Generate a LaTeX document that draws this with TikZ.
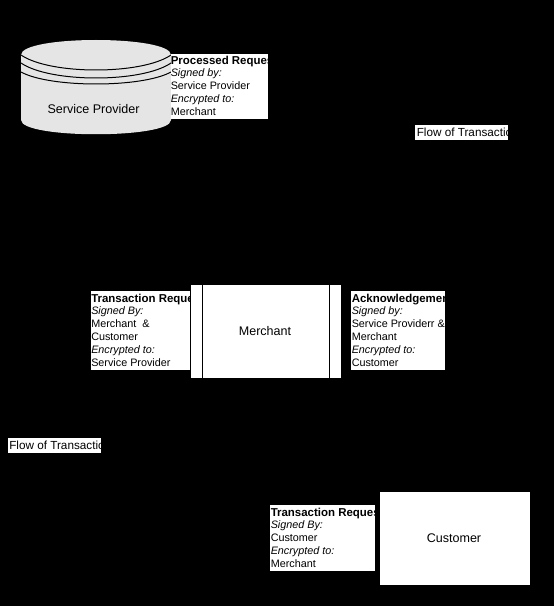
\documentclass[tikz,border=0pt]{standalone}
\usepackage{fontspec}
\setmainfont{Liberation Sans}
\usepackage{tikz}
\usetikzlibrary{positioning}
\def\px{0.75pt}
\newcommand{\msghd}{\fontsize{8.6}{9.6}\selectfont\bfseries}

\begin{document}
\begin{tikzpicture}[
    x=0.75pt, y=-0.75pt,
    party/.style   = {fill=white, inner sep=0pt, anchor=north west, font=\fontsize{9.4}{11}\selectfont},
    msgbox/.style  = {fill=white, inner sep=0pt, anchor=north west},
    msgtext/.style = {inner sep=0pt, anchor=north west, align=left, font=\fontsize{8.1}{9.6}\selectfont},
    flowtext/.style= {inner sep=0pt, anchor=west, font=\fontsize{8.8}{10}\selectfont},
    divider/.style = {draw=black, line width=0.75pt}
]

\useasboundingbox[fill=black] (0,0) rectangle (554,606);

% ---- Service Provider drum ----
\fill[gray!20] (21,55) .. controls (21,35) and (171,35) .. (171,55)
    -- (171,120) .. controls (171,139) and (21,139) .. (21,120) -- cycle;
\draw[divider] (21,55) .. controls (50,75) and (142,75) .. (171,55);
\draw[divider] (21,63) .. controls (50,83) and (142,83) .. (171,63);
\draw[divider] (21,72) .. controls (50,88) and (142,88) .. (171,72);
\node[font=\fontsize{9.4}{11}\selectfont] (sp) at (93.5,109) {Service Provider};

% ---- Merchant ----
\node[party, minimum width=150*\px, minimum height=93*\px] (merchant) at (191,285) {};
\draw[divider] (202.5,285) -- (202.5,378);
\draw[divider] (329.5,285) -- (329.5,378);
\node[font=\fontsize{9.4}{11}\selectfont] (mlabel) at (265,331) {Merchant};

% ---- Customer ----
\node[party, minimum width=150*\px, minimum height=93*\px] (customer) at (380,492) {};
\node[font=\fontsize{9.4}{11}\selectfont] (clabel) at (454,538) {Customer};

% ---- Messages ----
\node[msgbox, minimum width=97*\px, minimum height=65*\px] (processed) at (171,54) {};
\begin{scope}
    \clip (processed.north west) rectangle (processed.south east);
    \node[msgtext] (processedtext) at (170.5,55.5) {{\msghd Processed Request}\\\textit{Signed by:}\\Service Provider\\\textit{Encrypted to:}\\Merchant};
\end{scope}

\node[msgbox, minimum width=99*\px, minimum height=79*\px] (txrequest) at (91,291) {};
\begin{scope}
    \clip (txrequest.north west) rectangle (txrequest.south east);
    \node[msgtext] (txrequesttext) at (91,293.5) {{\msghd Transaction Request}\\\textit{Signed By:}\\Merchant~~\&\\Customer\\\textit{Encrypted to:}\\Service Provider};
\end{scope}

\node[msgbox, minimum width=94*\px, minimum height=79*\px] (ack) at (351,291) {};
\begin{scope}
    \clip (ack.north west) rectangle (ack.south east);
    \node[msgtext] (acktext) at (351.5,293.5) {{\msghd Acknowledgement}\\\textit{Signed by:}\\Service Providerr \&\\Merchant\\\textit{Encrypted to:}\\Customer};
\end{scope}

\node[msgbox, minimum width=105*\px, minimum height=66*\px] (custrequest) at (270,505) {};
\begin{scope}
    \clip (custrequest.north west) rectangle (custrequest.south east);
    \node[msgtext] (custrequesttext) at (270.5,507.5) {{\msghd Transaction Request}\\\textit{Signed By:}\\Customer\\\textit{Encrypted to:}\\Merchant};
\end{scope}

% ---- Flow labels ----
\node[msgbox, minimum width=93*\px, minimum height=15*\px] (flowtop) at (415,125) {};
\begin{scope}
    \clip (flowtop.north west) rectangle (flowtop.south east);
    \node[flowtext] (flowtoptext) at (416.5,132.5) {Flow of Transaction};
\end{scope}

\node[msgbox, minimum width=93*\px, minimum height=15*\px] (flowbottom) at (8,438) {};
\begin{scope}
    \clip (flowbottom.north west) rectangle (flowbottom.south east);
    \node[flowtext] (flowbottomtext) at (9,445.5) {Flow of Transaction};
\end{scope}

\end{tikzpicture}
\end{document}
